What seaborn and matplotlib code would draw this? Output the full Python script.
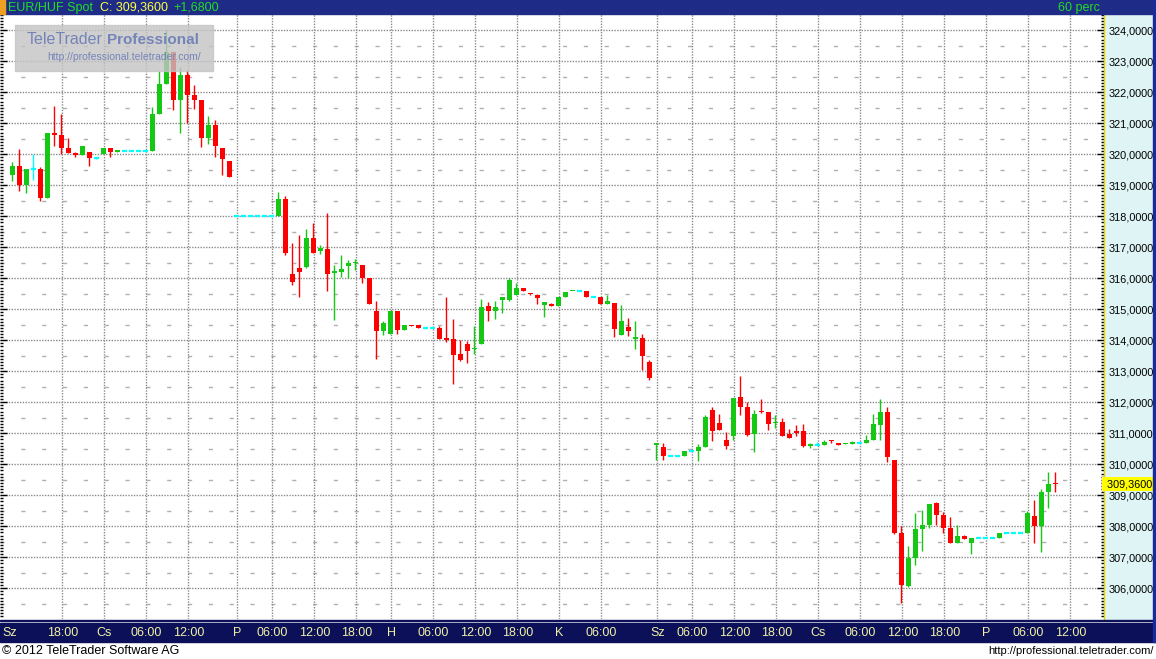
import numpy as np
import matplotlib
matplotlib.use("Agg")
import matplotlib.pyplot as plt
import seaborn as sns
from matplotlib.patches import Rectangle
from matplotlib.ticker import MultipleLocator, FuncFormatter
from matplotlib.transforms import blended_transform_factory

# hourly EUR/HUF candles (open, high, low, close)
opens = [319.33, 319.62, 319.00, 319.52, 319.52, 318.60, 320.69, 320.62, 320.20, 320.05,
         319.98, 320.07, 319.87, 320.02, 320.20, 320.09, 320.10, 320.10, 320.10, 320.10,
         320.12, 321.30, 322.27, 323.30, 321.75, 322.56, 321.90, 321.75, 320.54, 320.95,
         320.20, 319.78, 318.00, 318.00, 318.00, 318.00, 318.00, 318.00, 318.02, 318.56,
         316.14, 316.33, 316.35, 317.30, 316.88, 316.95, 316.17, 316.20, 316.40, 316.49,
         316.43, 316.01, 314.95, 314.31, 314.21, 314.95, 314.34, 314.50, 314.50, 314.40,
         314.40, 314.40, 314.04, 314.04, 313.56, 313.88, 313.72, 313.89, 315.10, 314.95,
         315.30, 315.30, 315.46, 315.69, 315.50, 315.46, 315.14, 315.17, 315.10, 315.40,
         315.58, 315.58, 315.59, 315.39, 315.40, 315.17, 315.20, 314.17, 314.43, 314.05,
         314.07, 313.30, 310.62, 310.56, 310.26, 310.26, 310.28, 310.44, 310.43, 310.56,
         311.75, 311.33, 310.78, 310.91, 312.17, 311.85, 310.98, 311.72, 311.69, 311.33,
         311.36, 310.98, 311.08, 311.07, 310.60, 310.61, 310.62, 310.76, 310.69, 310.64,
         310.67, 310.69, 310.69, 310.78, 311.27, 311.69, 310.14, 307.78, 306.07, 306.98,
         307.91, 308.04, 308.75, 308.37, 307.95, 307.46, 307.69, 307.46, 307.61, 307.61,
         307.61, 307.61, 307.77, 307.77, 307.77, 307.78, 308.33, 308.01, 309.11, 309.40]
highs = [319.76, 320.17, 319.52, 320.00, 319.58, 320.69, 321.56, 321.30, 320.53, 320.08,
         320.27, 320.07, 319.90, 320.20, 320.20, 320.11, 320.10, 320.10, 320.10, 320.10,
         321.52, 322.70, 324.00, 323.30, 322.83, 322.72, 322.24, 321.75, 321.23, 321.10,
         320.20, 319.78, 318.00, 318.00, 318.00, 318.00, 318.00, 318.00, 318.78, 318.65,
         317.14, 317.40, 317.59, 317.78, 317.07, 318.10, 316.43, 316.75, 316.59, 316.62,
         316.43, 316.01, 315.27, 314.62, 314.95, 314.95, 314.50, 314.50, 314.50, 314.40,
         314.40, 314.46, 315.41, 314.69, 314.01, 313.98, 314.46, 315.33, 315.23, 315.27,
         315.40, 316.00, 315.85, 315.69, 315.53, 315.49, 315.24, 315.20, 315.40, 315.56,
         315.59, 315.58, 315.59, 315.39, 315.40, 315.46, 315.20, 315.14, 314.72, 314.62,
         314.20, 313.37, 310.68, 310.68, 310.26, 310.26, 310.43, 310.44, 310.66, 311.59,
         311.85, 311.63, 311.04, 312.14, 312.85, 312.01, 311.75, 312.10, 311.69, 311.59,
         311.49, 311.14, 311.27, 311.30, 310.69, 310.72, 310.78, 310.78, 310.69, 310.69,
         310.75, 310.69, 310.95, 311.63, 312.10, 311.85, 310.14, 308.01, 307.36, 308.43,
         308.53, 308.72, 308.78, 308.46, 308.30, 308.04, 307.72, 307.62, 307.61, 307.61,
         307.61, 307.78, 307.77, 307.77, 307.77, 308.50, 308.85, 309.20, 309.75, 309.75]
lows = [319.15, 318.82, 318.76, 319.17, 318.50, 318.60, 320.27, 320.00, 320.05, 319.90,
        319.98, 319.63, 319.85, 320.02, 319.92, 320.09, 320.10, 320.10, 320.10, 320.10,
        320.12, 321.30, 322.27, 321.43, 320.70, 321.00, 321.47, 320.25, 320.34, 319.90,
        319.33, 319.27, 318.00, 318.00, 318.00, 318.00, 318.00, 318.00, 318.02, 316.76,
        315.78, 315.41, 316.33, 316.83, 316.79, 315.60, 314.65, 316.05, 316.02, 316.27,
        315.86, 315.18, 313.41, 314.18, 314.21, 314.21, 314.34, 314.46, 314.41, 314.40,
        314.40, 314.05, 313.95, 312.60, 313.33, 313.27, 313.56, 313.89, 314.62, 314.69,
        314.88, 315.27, 315.46, 315.59, 315.45, 315.17, 314.76, 315.10, 315.10, 315.40,
        315.58, 315.58, 315.40, 315.39, 315.17, 315.17, 314.10, 314.17, 314.14, 313.72,
        313.04, 312.72, 310.14, 310.14, 310.26, 310.26, 310.28, 310.44, 310.11, 310.56,
        310.75, 311.10, 310.49, 310.78, 311.59, 310.91, 310.40, 311.65, 311.10, 311.17,
        310.91, 310.85, 310.91, 310.56, 310.53, 310.61, 310.62, 310.69, 310.62, 310.64,
        310.67, 310.69, 310.69, 310.78, 310.78, 310.08, 307.75, 305.53, 306.04, 306.75,
        307.20, 307.95, 308.04, 307.78, 307.46, 307.46, 307.59, 307.11, 307.61, 307.61,
        307.61, 307.61, 307.77, 307.77, 307.77, 307.78, 307.46, 307.18, 308.59, 309.11]
closes = [319.62, 319.00, 319.52, 319.52, 318.60, 320.69, 320.63, 320.21, 320.05, 319.98,
          320.27, 319.89, 319.87, 320.20, 320.08, 320.11, 320.10, 320.10, 320.10, 320.10,
          321.30, 322.27, 323.30, 321.75, 322.56, 321.90, 321.75, 320.54, 320.95, 320.28,
          319.86, 319.28, 318.00, 318.00, 318.00, 318.00, 318.00, 318.00, 318.56, 316.83,
          315.89, 316.21, 317.30, 316.83, 316.99, 316.14, 316.25, 316.31, 316.49, 316.50,
          316.02, 315.18, 314.31, 314.56, 314.95, 314.34, 314.50, 314.46, 314.41, 314.40,
          314.40, 314.05, 314.02, 313.53, 313.36, 313.65, 313.76, 315.07, 314.95, 315.07,
          315.40, 315.95, 315.69, 315.59, 315.49, 315.36, 315.24, 315.10, 315.40, 315.56,
          315.59, 315.58, 315.40, 315.39, 315.17, 315.27, 314.36, 314.62, 314.30, 314.07,
          313.49, 312.79, 310.68, 310.27, 310.26, 310.26, 310.43, 310.44, 310.56, 311.53,
          311.07, 311.10, 310.59, 312.14, 311.85, 310.95, 311.62, 311.69, 311.30, 311.36,
          310.91, 310.85, 311.02, 310.59, 310.62, 310.61, 310.72, 310.75, 310.62, 310.66,
          310.69, 310.69, 310.79, 311.30, 311.69, 310.24, 307.78, 306.11, 306.98, 307.91,
          308.04, 308.72, 308.37, 307.95, 307.46, 307.69, 307.59, 307.62, 307.61, 307.61,
          307.61, 307.78, 307.77, 307.77, 307.77, 308.43, 308.01, 309.11, 309.37, 309.36]

tick_idx = [0, 8, 14, 20, 26, 33, 38, 44, 50, 55, 61, 67, 73, 79, 85,
            93, 98, 104, 110, 116, 122, 128, 134, 140, 146, 152]
tick_lbl = ["Sz", "18:00", "Cs", "06:00", "12:00", "P", "06:00", "12:00", "18:00", "H",
            "06:00", "12:00", "18:00", "K", "06:00", "Sz", "06:00", "12:00", "18:00", "Cs",
            "06:00", "12:00", "18:00", "P", "06:00", "12:00"]
last_price = 309.36

W, H = 1156, 659
GREEN, RED, CYAN = "#14c814", "#ff0000", "#00ffff"
NAVY_TOP, NAVY_BOT = "#1e2c88", "#0c1058"

sns.set_theme(style="white")
plt.rcParams["font.family"] = ["Liberation Sans", "DejaVu Sans"]

fig = plt.figure(figsize=(W / 100, H / 100), dpi=100, facecolor="white")


def box(x0, y0, x1, y1):
    # pixel box (top-left origin) -> figure fraction rect
    return [x0 / W, 1 - y1 / H, (x1 - x0) / W, (y1 - y0) / H]


def fy(y):
    return 1 - y / H


# background panels
fig.patches.append(Rectangle((1104 / W, fy(619)), 50 / W, 605 / H, transform=fig.transFigure,
                             color="#dff5f5", zorder=-1))
fig.patches.append(Rectangle((0, fy(14)), 1, 14 / H, transform=fig.transFigure, color=NAVY_TOP, zorder=1))
fig.patches.append(Rectangle((0, fy(14)), 5 / W, 14 / H, transform=fig.transFigure, color="#f0a020", zorder=2))
fig.patches.append(Rectangle((0, fy(642)), 1, 19 / H, transform=fig.transFigure, color=NAVY_BOT, zorder=1))
fig.patches.append(Rectangle((0, fy(621)), 1, 1 / H, transform=fig.transFigure, color=NAVY_BOT, zorder=1))
fig.patches.append(Rectangle((1153 / W, fy(642)), 3 / W, 642 / H, transform=fig.transFigure,
                             color="#1a2a9a", zorder=2))

ax = fig.add_axes(box(0, 14, 1104, 619))
ax.set_facecolor("none")
ax.set_xlim(-5.3 / 7, (1104 - 5.3) / 7)
ax.set_ylim(324 - (619 - 30.3) / 31, 324 + (30.3 - 14) / 31)

# grid
for v in range(306, 325):
    ax.axhline(v, color="#8a8a8a", lw=1, ls=(0, (1, 1)), zorder=0)
for v in np.arange(305.5, 324.5, 1.0):
    ax.axhline(v, color="#b0b0b0", lw=1, ls=(0, (3, 12)), zorder=0)
for t in tick_idx[1:]:
    ax.axvline(t + 1 / 7, color="#8a8a8a", lw=1, ls=(0, (1, 1)), zorder=0)

o, hi, lo, c = (np.array(a) for a in (opens, highs, lows, closes))
idx = np.arange(1, len(o) + 1)
up, dn, eq = c > o, c < o, c == o
bw = 5 / 7

ax.vlines(idx[up], lo[up], hi[up], color=GREEN, lw=1, zorder=2)
ax.bar(idx[up], np.maximum(c[up] - o[up], 0.045), bottom=o[up], width=bw,
       color=GREEN, linewidth=0, zorder=3)
ax.vlines(idx[dn], lo[dn], hi[dn], color=RED, lw=1, zorder=2)
ax.bar(idx[dn], np.maximum(o[dn] - c[dn], 0.045), bottom=c[dn], width=bw,
       color=RED, linewidth=0, zorder=3)
wk = eq & (hi > lo)
ax.vlines(idx[wk], lo[wk], hi[wk], color=CYAN, lw=1, zorder=2)
ax.hlines(c[eq], idx[eq] - bw / 2, idx[eq] + bw / 2, color=CYAN, lw=1.6, zorder=3)

# axes / ticks
for s in ("left", "top", "bottom"):
    ax.spines[s].set_visible(False)
ax.spines["right"].set_color("#e8d000")
ax.spines["right"].set_linewidth(1)
ax.set_xticks([])
ax.yaxis.set_major_locator(MultipleLocator(1))
ax.yaxis.set_minor_locator(MultipleLocator(0.1))
ax.yaxis.set_major_formatter(FuncFormatter(lambda v, p: f"{v:.4f}".replace(".", ",")))
ax.tick_params(axis="y", which="both", left=True, right=True, labelleft=False, labelright=True,
               direction="in", color="black", width=1, pad=3.5)
ax.tick_params(axis="y", which="major", length=5, labelsize=7.8, labelcolor="black")
ax.tick_params(axis="y", which="minor", length=2.5)

# last price marker
ax.text(1.0, last_price, " " + f"{last_price:.4f}".replace(".", ",") + " ",
        transform=ax.get_yaxis_transform(), ha="left", va="center", fontsize=7.8, color="black",
        clip_on=False, zorder=6, bbox=dict(boxstyle="square,pad=0.2", fc="#ffff00", ec="none"))

# watermark
fig.patches.append(Rectangle((15 / W, fy(71)), 198 / W, 46 / H, transform=fig.transFigure,
                             color="#c4c4c4", alpha=0.8, zorder=5))
fig.text(27 / W, fy(40), "TeleTrader", fontsize=11.5, color="#7484b8", ha="left", va="center", zorder=6)
fig.text(199 / W, fy(40), "Professional", fontsize=11, fontweight="bold", color="#7484b8",
         ha="right", va="center", zorder=6)
fig.text(47 / W, fy(57), "http://professional.teletrader.com/", fontsize=7.5, color="#7484b8",
         ha="left", va="center", zorder=6)

# header
fig.text(8 / W, fy(7.5), "EUR/HUF Spot", fontsize=9, color="#22dd22", va="center", zorder=3)
fig.text(100 / W, fy(7.5), f"C: {last_price:.4f}".replace(".", ","), fontsize=9, color="#ffff40",
         va="center", zorder=3)
fig.text(173 / W, fy(7.5), "+1,6800", fontsize=9, color="#22dd22", va="center", zorder=3)
fig.text(1100 / W, fy(7.5), "60 perc", fontsize=9, color="#22dd22", ha="right", va="center", zorder=3)

# time axis bar
bt = blended_transform_factory(ax.transData, fig.transFigure)
for t, s in zip(tick_idx, tick_lbl):
    if t == 0:
        fig.text(2 / W, fy(632.5), s, ha="left", va="center", fontsize=9, color="#f0f0a8", zorder=3)
    else:
        fig.text(t + 1 / 7, fy(632.5), s, transform=bt, ha="center", va="center",
                 fontsize=9, color="#f0f0a8", zorder=3)

# footer
fig.text(2 / W, fy(650.5), "\u00a9 2012 TeleTrader Software AG", fontsize=9, color="black",
         ha="left", va="center")
fig.text(1154 / W, fy(650.5), "http://professional.teletrader.com/", fontsize=8, color="black",
         ha="right", va="center")

fig.savefig("out.png", dpi=100, facecolor="white")
plt.close(fig)
